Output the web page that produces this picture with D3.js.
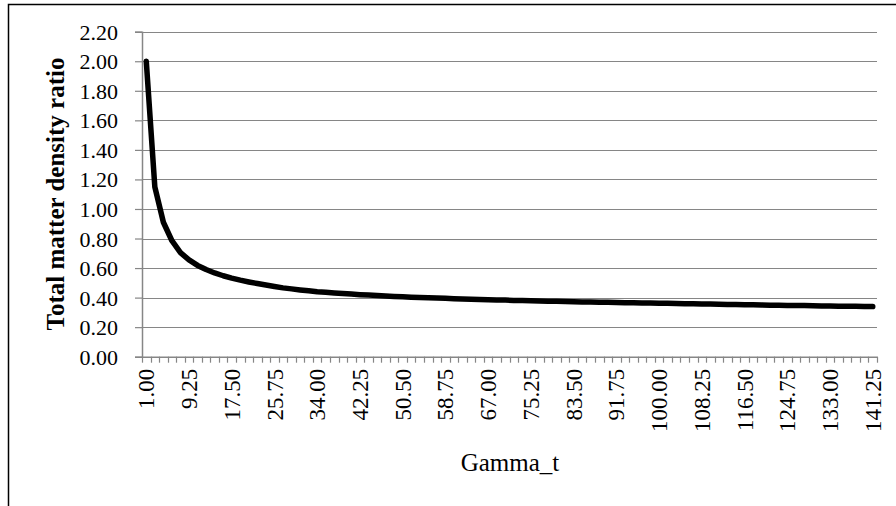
<!DOCTYPE html>
<html>
<head>
<meta charset="utf-8">
<script src="https://cdn.jsdelivr.net/npm/d3@7"></script>
<style>
    body { margin: 0; background: #fff; }
    svg { display: block; }
    text { font-family: "Liberation Serif", "Times New Roman", serif; fill: #000; }
</style>
</head>
<body>
<svg id="chart" width="896" height="506"></svg>
<script>
// Gamma_t categories (x axis)
var gamma = [
    "1.00", "2.65", "4.30", "5.95", "7.60", "9.25", "10.90", "12.55", "14.20", "15.85",
    "17.50", "19.15", "20.80", "22.45", "24.10", "25.75", "27.40", "29.05", "30.70", "32.35",
    "34.00", "35.65", "37.30", "38.95", "40.60", "42.25", "43.90", "45.55", "47.20", "48.85",
    "50.50", "52.15", "53.80", "55.45", "57.10", "58.75", "60.40", "62.05", "63.70", "65.35",
    "67.00", "68.65", "70.30", "71.95", "73.60", "75.25", "76.90", "78.55", "80.20", "81.85",
    "83.50", "85.15", "86.80", "88.45", "90.10", "91.75", "93.40", "95.05", "96.70", "98.35",
    "100.00", "101.65", "103.30", "104.95", "106.60", "108.25", "109.90", "111.55", "113.20", "114.85",
    "116.50", "118.15", "119.80", "121.45", "123.10", "124.75", "126.40", "128.05", "129.70", "131.35",
    "133.00", "134.65", "136.30", "137.95", "139.60", "141.25"
]

// total matter density ratio
var ratio = [
    2.000, 1.150, 0.910, 0.785, 0.705, 0.655, 0.618, 0.590, 0.567, 0.548,
    0.532, 0.518, 0.506, 0.495, 0.485, 0.475, 0.466, 0.459, 0.452, 0.446,
    0.440, 0.436, 0.432, 0.428, 0.424, 0.420, 0.417, 0.414, 0.411, 0.408,
    0.406, 0.403, 0.401, 0.399, 0.397, 0.395, 0.393, 0.391, 0.389, 0.387,
    0.386, 0.384, 0.383, 0.381, 0.380, 0.378, 0.377, 0.376, 0.375, 0.374,
    0.372, 0.371, 0.370, 0.369, 0.368, 0.367, 0.366, 0.365, 0.364, 0.363,
    0.362, 0.361, 0.360, 0.359, 0.358, 0.357, 0.356, 0.355, 0.354, 0.353,
    0.352, 0.351, 0.350, 0.349, 0.348, 0.347, 0.347, 0.346, 0.345, 0.344,
    0.343, 0.342, 0.342, 0.341, 0.340, 0.339
]

var yTicks = [0, 0.2, 0.4, 0.6, 0.8, 1.0, 1.2, 1.4, 1.6, 1.8, 2.0, 2.2]
var labelEvery = 5

var serif = "'Liberation Serif', 'Times New Roman', serif"
var gridColor = "#868686"
var svg = d3.select("#chart")

// chart frame (cut off on the right and bottom)
svg.append("rect")
    .attr("x", 8.5)
    .attr("y", 4.5)
    .attr("width", 1000)
    .attr("height", 1000)
    .attr("fill", "none")
    .attr("stroke", "#000")
    .attr("stroke-width", 1.5)

var plot = {left: 142, right: 877, top: 31.7, bottom: 356.7}

var x = d3.scaleBand()
    .domain(gamma)
    .range([plot.left, plot.right])
    .padding(0)

var y = d3.scaleLinear()
    .domain([0, 2.2])
    .range([plot.bottom, plot.top])

// horizontal gridlines
svg.append("g")
    .selectAll("line")
    .data(yTicks)
    .enter()
    .append("line")
    .attr("x1", plot.left)
    .attr("x2", plot.right)
    .attr("y1", function (d) { return Math.round(y(d)) + 0.5 })
    .attr("y2", function (d) { return Math.round(y(d)) + 0.5 })
    .attr("stroke", gridColor)
    .attr("stroke-width", 1.2)

// y axis
var yAxis = svg.append("g")
    .attr("transform", "translate(" + plot.left + ",0)")
    .call(d3.axisLeft(y)
        .tickValues(yTicks)
        .tickSize(7)
        .tickPadding(17)
        .tickFormat(d3.format(".2f")))
yAxis.attr("font-family", serif)
yAxis.select(".domain").attr("stroke", gridColor).attr("stroke-width", 1.5)
yAxis.selectAll(".tick line").attr("stroke", gridColor).attr("stroke-width", 1.2)
yAxis.selectAll(".tick text")
    .attr("dy", "0.34em")
    .style("font-size", "22px")
    .style("font-family", serif)

// x axis
var xAxis = svg.append("g")
    .attr("transform", "translate(0," + plot.bottom + ")")
    .call(d3.axisBottom(x)
        .tickValues(gamma.filter(function (d, i) { return i % labelEvery == 0 }))
        .tickSize(0)
        .tickSizeOuter(0))
xAxis.attr("font-family", serif)
xAxis.select(".domain").attr("stroke", gridColor).attr("stroke-width", 1.5)
xAxis.selectAll(".tick text")
    .attr("transform", "rotate(-90)")
    .attr("text-anchor", "end")
    .attr("x", -12)
    .attr("y", 0)
    .attr("dy", "0.35em")
    .style("font-size", "23px")
    .style("font-family", serif)

// minor tick marks between categories
var bounds = gamma.map(function (d) { return x(d) })
bounds.push(plot.right)
svg.append("g")
    .selectAll("line")
    .data(bounds)
    .enter()
    .append("line")
    .attr("x1", function (d) { return Math.round(d) + 0.5 })
    .attr("x2", function (d) { return Math.round(d) + 0.5 })
    .attr("y1", plot.bottom)
    .attr("y2", plot.bottom + 6)
    .attr("stroke", gridColor)
    .attr("stroke-width", 1.2)

// the series
var line = d3.line()
    .x(function (d, i) { return x(gamma[i]) + x.bandwidth() / 2 })
    .y(function (d) { return y(d) })

svg.append("path")
    .datum(ratio)
    .attr("d", line)
    .attr("fill", "none")
    .attr("stroke", "#000")
    .attr("stroke-width", 5.5)
    .attr("stroke-linejoin", "round")
    .attr("stroke-linecap", "round")

// axis titles
svg.append("text")
    .attr("transform", "translate(64,194) rotate(-90)")
    .attr("text-anchor", "middle")
    .style("font-family", serif)
    .style("font-size", "25px")
    .style("font-weight", "bold")
    .text("Total matter density ratio")

svg.append("text")
    .attr("x", 510)
    .attr("y", 471)
    .attr("text-anchor", "middle")
    .style("font-family", serif)
    .style("font-size", "25px")
    .text("Gamma_t")
</script>
</body>
</html>
